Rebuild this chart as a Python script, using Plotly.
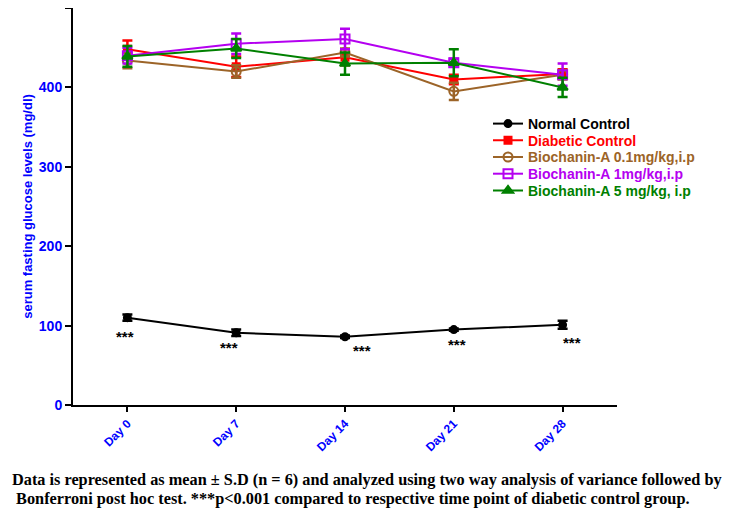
import plotly.graph_objects as go

days = ["Day 0", "Day 7", "Day 14", "Day 21", "Day 28"]

normal = [110, 91, 86, 95, 101]
normal_sd = [4, 4, 1.5, 1.5, 5]
diabetic = [448, 426, 438, 410, 417]
diabetic_sd = [11, 13, 10, 6, 6]
bio01 = [434, 420, 444, 395, 416]
bio01_sd = [10, 8, 5, 11, 6]
bio1 = [440, 455, 461, 431, 416]
bio1_sd = [10, 13, 13, 5, 14]
bio5 = [439, 449, 430, 431, 400]
bio5_sd = [13, 12, 14, 17, 12]

series = [
    ("Normal Control", normal, normal_sd, "#000000", "circle", 7),
    ("Diabetic Control", diabetic, diabetic_sd, "#ff0000", "square", 7),
    ("Biochanin-A 0.1mg/kg,i.p", bio01, bio01_sd, "#9c6428", "circle-open", 9),
    ("Biochanin-A 1mg/kg,i.p", bio1, bio1_sd, "#b400f0", "square-open", 9),
    ("Biochanin-A 5 mg/kg, i.p", bio5, bio5_sd, "#008000", "triangle-up", 9),
]

x = list(range(len(days)))

# page offset of the figure (default body margin) and plot geometry
OFF = 8
W, H = 740, 513
L, R, T, B = 65, 131, 0, 116
plot_w = W - L - R
plot_h = H - T - B
legend_rows_page = [124, 140.7, 157.4, 174.1, 190.8]

def py_paper(page_y):
    return (H - B - (page_y - OFF)) / plot_h

fig = go.Figure()
layout_legends = {}
for k, (name, vals, sd, color, sym, size) in enumerate(series):
    lg = "legend" if k == 0 else f"legend{k+1}"
    fig.add_trace(go.Scatter(
        x=x, y=vals, name=f"<span style='color:{color}'>{name}</span>",
        mode="lines+markers", legend=lg,
        line=dict(color=color, width=2),
        marker=dict(symbol=sym, size=size, color=color,
                    line=dict(color=color, width=2)),
        error_y=dict(type="data", array=sd, visible=True, color=color,
                     thickness=2.5, width=5),
    ))
    layout_legends[lg] = dict(
        x=(488 - OFF - L) / plot_w, y=py_paper(legend_rows_page[k]),
        xanchor="left", yanchor="middle",
        font=dict(family="Liberation Sans", size=14, weight="bold"),
        bgcolor="rgba(0,0,0,0)", borderwidth=0)

star_dx = [-2, -7, 17, 3, 9]
star_dy = [-19, -15, -14, -15, -18]
for i in range(len(days)):
    fig.add_annotation(x=x[i], y=normal[i], text="***", showarrow=False,
                       xshift=star_dx[i], yshift=star_dy[i],
                       font=dict(family="Liberation Sans", size=15, color="black"))

footer1 = "Data is represented as mean ± S.D (n = 6) and analyzed using two way analysis of variance followed by"
footer2 = " Bonferroni post hoc test. ***p<0.001 compared to respective time point of diabetic control group."
fx = (2 - L) / plot_w
fig.add_annotation(xref="paper", yref="paper", x=fx, y=py_paper(479.5), xanchor="left", yanchor="middle",
                   text=footer1, showarrow=False,
                   font=dict(family="Liberation Serif", size=16.3, color="black", weight="bold"))
fig.add_annotation(xref="paper", yref="paper", x=fx, y=py_paper(498.5), xanchor="left", yanchor="middle",
                   text=footer2, showarrow=False,
                   font=dict(family="Liberation Serif", size=16.3, color="black", weight="bold"))

fig.update_layout(
    width=W, height=H,
    margin=dict(l=L, r=R, t=T, b=B),
    plot_bgcolor="white", paper_bgcolor="white",
    font=dict(family="Liberation Sans", weight="bold"),
    showlegend=True,
    xaxis=dict(range=[-0.5, 4.5], tickvals=x, ticktext=days, tickangle=-45, automargin=False,
               showgrid=False, zeroline=False, showline=True, linecolor="black", linewidth=2,
               ticks="outside", ticklen=5, tickwidth=1.5, tickcolor="black",
               tickfont=dict(family="Liberation Sans", size=12, color="#0000ff", weight="bold")),
    yaxis=dict(range=[0, 500], tickvals=[0, 100, 200, 300, 400, 500], automargin=False,
               showgrid=False, zeroline=False, showline=True, linecolor="black", linewidth=2,
               ticks="outside", ticklen=6, tickwidth=2, tickcolor="black",
               tickfont=dict(family="Liberation Sans", size=14, color="#0000ff", weight="bold"),
               title=dict(text="serum fasting glucose levels (mg/dl)", standoff=3,
                          font=dict(family="Liberation Sans", size=13, color="#0000ff", weight="bold"))),
    **layout_legends,
)

fig.write_html("out.html")
